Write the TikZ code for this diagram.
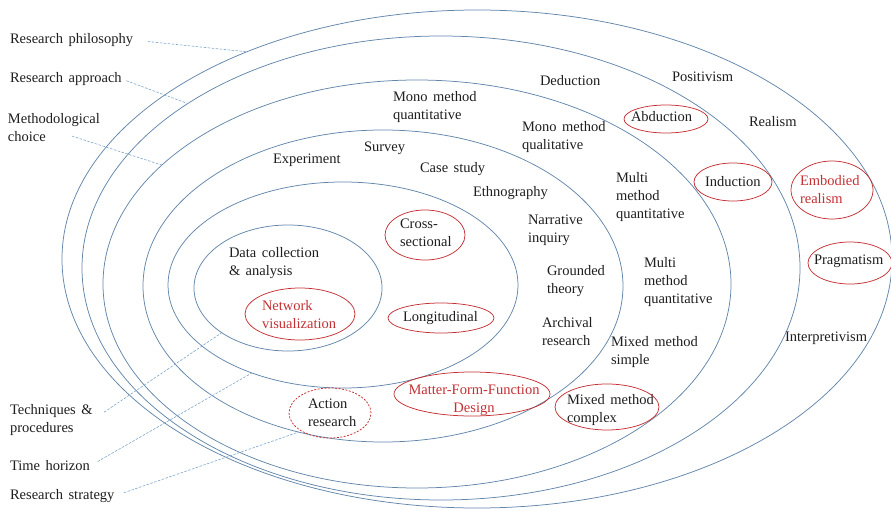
\documentclass[tikz,border=0pt]{standalone}
\usepackage{fontspec}
\setmainfont{Liberation Serif}[WordSpace=1.5]
\usetikzlibrary{shapes.geometric,calc}
\definecolor{ringblue}{RGB}{98,134,170}
\definecolor{pointblue}{RGB}{125,165,205}
\definecolor{markred}{RGB}{196,48,52}
\definecolor{inkgray}{RGB}{30,30,30}
\begin{document}
\begin{tikzpicture}[x=1pt,y=-1pt,
  every node/.style={font=\fontsize{14.5}{18}\selectfont, inner sep=0pt, outer sep=0pt, text=inkgray},
  ring/.style={ellipse, draw=ringblue, line width=0.75pt},
  txt/.style={anchor=west, align=left},
  redtxt/.style={anchor=west, align=left, text=markred},
  oval/.style={ellipse, draw=markred, line width=0.75pt},
  dashoval/.style={ellipse, draw=markred, line width=0.75pt, dash pattern=on 2pt off 1.5pt},
  pointer/.style={draw=pointblue, line width=0.6pt, dash pattern=on 2.5pt off 1.5pt}
]
\useasboundingbox (0,0) rectangle (891,511);

% nested layers of the onion, outside in
\node[ring, minimum width=830pt, minimum height=498pt] (rphil) at (477,259) {};
\node[ring, minimum width=718pt, minimum height=464pt] (rappr) at (441,268) {};
\node[ring, minimum width=628pt, minimum height=408pt] (rchoice) at (417,284) {};
\node[ring, minimum width=480pt, minimum height=312pt] (rstrat) at (383,286) {};
\node[ring, minimum width=350pt, minimum height=206pt] (rtime) at (343,285) {};
\node[ring, minimum width=188pt, minimum height=126pt] (rtech) at (288,288) {};

% layer names on the left
\node[txt] (tphil) at (10,40) {Research philosophy};
\node[txt] (tappr) at (10,79) {Research approach};
\node[txt] (tchoice) at (8,128) {Methodological\\choice};
\node[txt] (ttech) at (10,420) {Techniques \&\\procedures};
\node[txt] (ttime) at (10,466) {Time horizon};
\node[txt] (tstrat) at (10,496) {Research strategy};

% pointers from the names to their layers
\draw[pointer, shorten <=15pt] (tphil.east) -- (rphil.138.1);
\draw[pointer, shorten <=5pt] (tappr.east) -- (rappr.147.3);
\draw[pointer] ($(tchoice.south west)+(64,-6)$) -- (rchoice.155.2);
\draw[pointer, shorten <=14pt] (ttech.east) -- (rtech.214.3);
\draw[pointer, shorten <=9pt] (ttime.east) -- (rtime.224.1);
\draw[pointer, shorten <=10pt] (tstrat.east) -- (rstrat.240.4);

% philosophies
\node[txt] (posi) at (672,77) {Positivism};
\node[txt] (real) at (749,122) {Realism};
\node[redtxt] (embo) at (800,190) {Embodied\\realism};
\node[oval, minimum width=82pt, minimum height=58pt] (oembo) at (832,190) {};
\node[txt] (prag) at (814,261) {Pragmatism};
\node[oval, minimum width=84pt, minimum height=42pt] (oprag) at (850,263) {};
\node[txt] (inte) at (785,338) {Interpretivism};

% approaches
\node[txt] (dedu) at (540,81) {Deduction};
\node[txt] (abdu) at (631,117) {Abduction};
\node[oval, minimum width=84pt, minimum height=28pt] (oabdu) at (666,119) {};
\node[txt] (indu) at (705,182) {Induction};
\node[oval, minimum width=78pt, minimum height=38pt] (oindu) at (733,182) {};

% methodological choices
\node[txt] (mmqn) at (393,107) {Mono method\\quantitative};
\node[txt] (mmql) at (522,137) {Mono method\\qualitative};
\node[txt] (mumq) at (616,197) {Multi\\method\\quantitative};
\node[txt] (mumr) at (644,282) {Multi\\method\\quantitative};
\node[txt] (mxsi) at (611,352) {Mixed method\\simple};
\node[txt] (mxco) at (567,410) {Mixed method\\complex};
\node[oval, minimum width=104pt, minimum height=46pt] (omxco) at (607,407) {};

% strategies
\node[txt] (expe) at (273,160) {Experiment};
\node[txt] (surv) at (364,148) {Survey};
\node[txt] (case) at (420,169) {Case study};
\node[txt] (ethn) at (473,193) {Ethnography};
\node[txt] (narr) at (528,230) {Narrative\\inquiry};
\node[txt] (grou) at (547,281) {Grounded\\theory};
\node[txt] (arch) at (542,332) {Archival\\research};
\node[txt] (acti) at (308,413) {Action\\research};
\node[dashoval, minimum width=82pt, minimum height=50pt] (oacti) at (330,413) {};
\node[anchor=center, align=center, text=markred] (mffd) at (474,400) {Matter-Form-Function\\Design};
\node[oval, minimum width=156pt, minimum height=44pt] (omffd) at (472,394) {};

% time horizons
\node[txt] (cros) at (400,233) {Cross-\\sectional};
\node[oval, minimum width=80pt, minimum height=50pt] (ocros) at (425,235) {};
\node[txt] (long) at (403,318) {Longitudinal};
\node[oval, minimum width=106pt, minimum height=30pt] (olong) at (441,318) {};

% techniques and procedures
\node[txt] (data) at (229,263) {Data collection\\\& analysis};
\node[redtxt] (netw) at (262,315) {Network\\visualization};
\node[oval, minimum width=110pt, minimum height=52pt] (onetw) at (300,314) {};
\end{tikzpicture}
\end{document}
